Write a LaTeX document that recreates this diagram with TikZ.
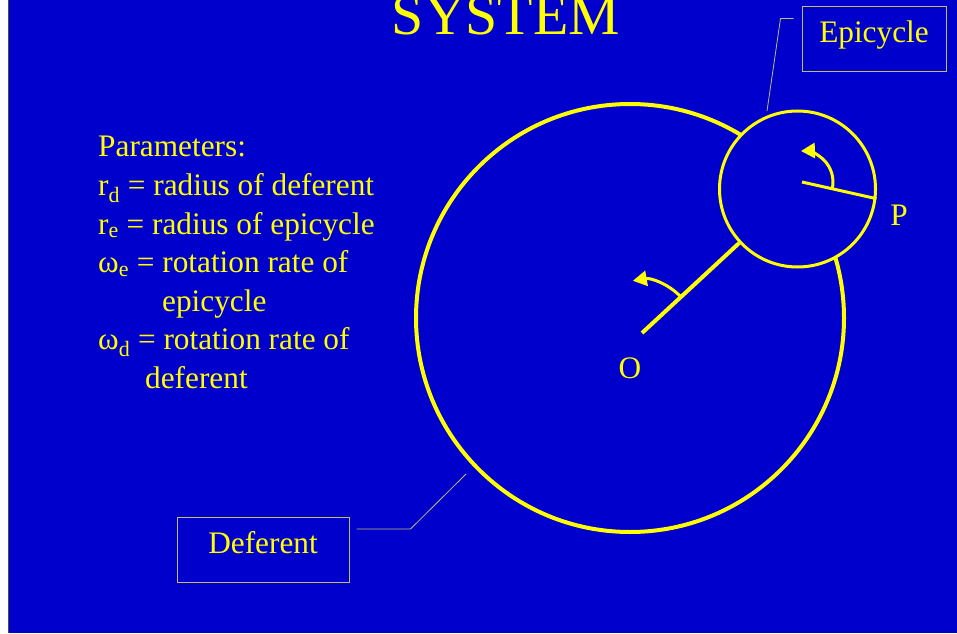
\documentclass[tikz,border=0pt]{standalone}
\usepackage{fontspec}
\setmainfont{Liberation Serif}
\usetikzlibrary{calc,arrows.meta}
\definecolor{slideblue}{RGB}{0,0,204}
\definecolor{slideyellow}{RGB}{255,255,0}
\definecolor{boxline}{RGB}{190,190,110}
\tikzset{
    labeltext/.style={text=slideyellow, inner sep=0pt, font=\fontsize{31.3}{38}\selectfont},
    param/.style={labeltext, anchor=base west},
    orbit/.style={circle, draw=slideyellow, inner sep=0pt},
    arm/.style={draw=slideyellow},
    spin/.style={draw=slideyellow, line width=3pt, -{Triangle[length=14pt,width=15pt]}},
    callout/.style={labeltext, draw=boxline, line width=1pt, minimum height=65pt, text height=15pt, text depth=8pt},
    leader/.style={draw=boxline, line width=0.8pt}
}

\begin{document}
\begin{tikzpicture}[x=1pt,y=1pt]

    % Slide
    \useasboundingbox (0,0) rectangle (957,633);
    \clip (0,0) rectangle (957,633);
    \fill[white] (0,0) rectangle (957,633);
    \fill[slideblue] (8,0) rectangle (957,633);
    \draw[gray!60!black, line width=1pt] (8,0) -- (8,633);

    % Title
    \node[labeltext, font=\fontsize{57.8}{60}\selectfont, anchor=base] (title) at (506,598) {SYSTEM};

    % Parameters
    \foreach \txt [count=\i] in {Parameters:, r\textsubscript{d} = radius of deferent, r\textsubscript{e} = radius of epicycle, ω\textsubscript{e} = rotation rate of, \hspace*{64pt}epicycle, ω\textsubscript{d} = rotation rate of, \hspace*{47pt}deferent}
        \node[param] (param\i) at (98,{476-38.5*(\i-1)}) {\txt};

    % Deferent and epicycle
    \node[orbit, line width=4pt, minimum size=428pt] (deferent) at (630,315) {};
    \node[orbit, line width=3pt, fill=slideblue, minimum size=156pt] (epicycle) at (797.5,444) {};

    % Arms
    \coordinate (hubO) at (642,300);
    \coordinate (hubE) at (802,451);
    \draw[arm, line width=4pt] (hubO) -- (epicycle);
    \draw[arm, line width=3pt] (hubE) -- (epicycle.-7);

    % Rotation arrows
    \draw[spin] ([shift={(43:53)}]hubO) arc[start angle=43, end angle=100, radius=53];
    \draw[spin] ([shift={(-13:31)}]hubE) arc[start angle=-13, end angle=92, radius=31];

    % Labels
    \node[labeltext] (labelO) at (630,265) {O};
    \node[labeltext] (labelP) at (899,418) {P};

    % Callouts
    \node[callout, minimum width=144pt] (epiBox) at (874,593.5) {Epicycle};
    \node[callout, minimum width=172pt] (defBox) at (263,83) {Deferent};
    \coordinate (epiTouch) at (767,522);
    \coordinate (defTouch) at (466,159);
    \draw[leader] ([xshift=-8pt,yshift=-12pt]epiBox.north west) -- ++(-13,0) -- (epiTouch);
    \draw[leader] ([xshift=7pt,yshift=-12pt]defBox.north east) -- ++(54,0) -- (defTouch);

\end{tikzpicture}
\end{document}
